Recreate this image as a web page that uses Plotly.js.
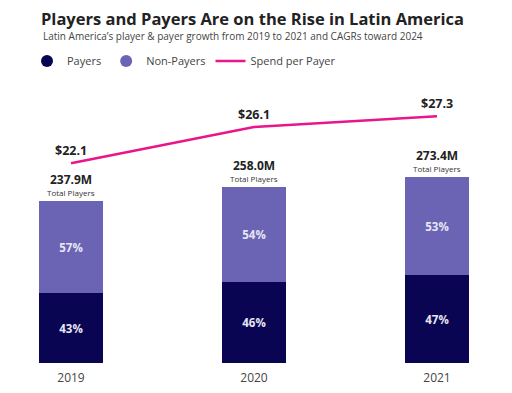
<!DOCTYPE html>
<html><head><meta charset="utf-8">
<script src="https://cdn.plot.ly/plotly-3.0.1.min.js"></script>
<style>html,body{margin:0;padding:0;background:#fff;}#chart{width:512px;height:393px;}</style>
</head><body><div id="chart"></div>
<script>
const years = ['2019', '2020', '2021'];
const totalPlayers = [237.9, 258.0, 273.4];
const payerPct = [43, 46, 47];
const nonPayerPct = [57, 54, 53];
const spendPerPayer = [22.1, 26.1, 27.3];

const payers = totalPlayers.map((t, i) => t * payerPct[i] / 100);
const nonPayers = totalPlayers.map((t, i) => t * nonPayerPct[i] / 100);

const cPay = '#0a0552', cNon = '#6b64b4', cLine = '#e8168a';
const FONT = 'Open Sans, sans-serif';

const traces = [
  {type: 'bar', x: years, y: payers, marker: {color: cPay}, showlegend: false,
   text: payerPct.map(p => p + '%'), textposition: 'inside', insidetextanchor: 'middle',
   textfont: {color: '#e6e6f2', size: 11.5, family: FONT, weight: 700}, hoverinfo: 'skip'},
  {type: 'bar', x: years, y: nonPayers, marker: {color: cNon}, showlegend: false,
   text: nonPayerPct.map(p => p + '%'), textposition: 'inside', insidetextanchor: 'middle',
   textfont: {color: '#e6e6f2', size: 11.5, family: FONT, weight: 700}, hoverinfo: 'skip'},
  {type: 'scatter', mode: 'markers', x: [null], y: [null], name: 'Payers',
   marker: {color: cPay, size: 12, symbol: 'circle'}},
  {type: 'scatter', mode: 'markers', x: [null], y: [null], name: 'Non-Payers',
   marker: {color: cNon, size: 12, symbol: 'circle'}},
  {type: 'scatter', mode: 'lines', x: years, y: spendPerPayer, yaxis: 'y2', name: 'Spend per Payer',
   line: {color: cLine, width: 2.5}}
];

const annotations = [];
years.forEach((yr, i) => {
  annotations.push({x: i, y: totalPlayers[i], xref: 'x', yref: 'y', text: '<b>' + totalPlayers[i].toFixed(1) + 'M</b>',
    showarrow: false, yanchor: 'bottom', yshift: 12, borderpad: 0, font: {size: 12, color: '#222', family: FONT}});
  annotations.push({x: i, y: totalPlayers[i], xref: 'x', yref: 'y', text: 'Total Players',
    showarrow: false, yanchor: 'bottom', yshift: 2, borderpad: 0, font: {size: 8, color: '#333', family: FONT}});
  annotations.push({x: i, y: spendPerPayer[i], xref: 'x', yref: 'y2', text: '<b>$' + spendPerPayer[i].toFixed(1) + '</b>',
    showarrow: false, yshift: 13, font: {size: 12.5, color: '#222', family: FONT}});
});
annotations.push({xref: 'paper', yref: 'paper', x: 41/512, y: (363 - 36) / 263, xanchor: 'left', yanchor: 'middle',
  text: 'Latin America\u2019s player & payer growth from 2019 to 2021 and CAGRs toward 2024', showarrow: false,
  font: {size: 10, color: '#444', family: FONT}});

const layout = {
  width: 512, height: 393,
  margin: {l: 0, r: 0, t: 100, b: 30},
  paper_bgcolor: '#fff', plot_bgcolor: '#fff',
  barmode: 'stack', bargap: 0.65,
  title: {text: '<b>Players and Payers Are on the Rise in Latin America</b>', x: 41/512, xanchor: 'left',
    xref: 'container', yref: 'container', y: 1 - 19/393, yanchor: 'middle',
    font: {size: 16.5, color: '#222', family: FONT}},
  xaxis: {type: 'category', range: [-71/183, 2 + 75/183], showgrid: false, zeroline: false, showline: false,
    ticks: '', ticklabelstandoff: 6, tickfont: {size: 12, color: '#444', family: FONT}, fixedrange: true},
  yaxis: {range: [0, 263 / 0.681], visible: false, fixedrange: true},
  yaxis2: {range: [0, 263 / 9.04], overlaying: 'y', visible: false, fixedrange: true},
  showlegend: true,
  legend: {orientation: 'h', traceorder: 'normal', x: 27/512, xanchor: 'left', y: (363 - 61) / 263, yanchor: 'middle',
    font: {size: 11, color: '#444', family: FONT}, bgcolor: 'rgba(0,0,0,0)'},
  annotations: annotations
};

Plotly.newPlot('chart', traces, layout, {displayModeBar: false, staticPlot: true});
</script></body></html>
